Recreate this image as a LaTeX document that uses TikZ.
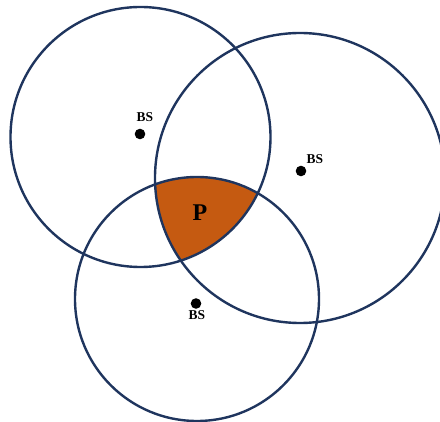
\documentclass[tikz,border=0pt]{standalone}
\usepackage{fontspec}
\setmainfont{Liberation Serif}
\definecolor{ring}{HTML}{1F355E}
\definecolor{zone}{HTML}{C55A11}
\begin{document}
\begin{tikzpicture}[x=1pt,y=-1pt,
  cell/.style={line width=2.4pt,color=ring},
  bs/.style={font=\bfseries\fontsize{13.5}{13.5}\selectfont,inner sep=0pt}]
\useasboundingbox (0,0) rectangle (440,422);
\clip (0,0) rectangle (440,422);

% centres of the three cells
\coordinate (c1) at (140.5,137);
\coordinate (c2) at (300,178);
\coordinate (c3) at (197,299);

% overlap of all three
\begin{scope}
\clip (c1) circle (130);
\clip (c2) circle (145);
\fill[zone] (c3) circle (122);
\end{scope}

\draw[cell] (c1) circle (130);
\draw[cell] (c2) circle (145);
\draw[cell] (c3) circle (122);

% base stations
\fill (140,134) circle (5.3) coordinate (bs1);
\fill (301,171) circle (5.3) coordinate (bs2);
\fill (196,303.5) circle (5.3) coordinate (bs3);
\node[bs] (l1) at (145,117) {BS};
\node[bs] (l2) at (315,159) {BS};
\node[bs] (l3) at (197,315.5) {BS};

\node[font=\bfseries\fontsize{24}{24}\selectfont,inner sep=0pt] (p) at (200,213) {P};
\end{tikzpicture}
\end{document}
